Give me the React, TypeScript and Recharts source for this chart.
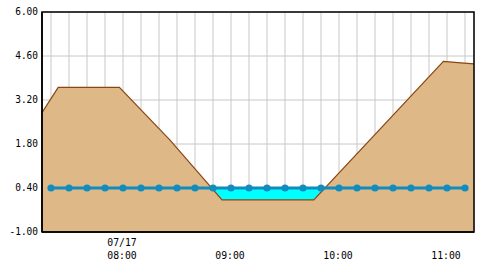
import React from 'react';
import { ComposedChart, Area, Line, XAxis, YAxis, CartesianGrid, ReferenceArea } from 'recharts';

// times are minutes since 00:00 on 07/17
const levelTimes = [440, 450, 460, 470, 480, 490, 500, 510, 520, 530, 540, 550, 560, 570, 580, 590, 600, 610, 620, 630, 640, 650, 660, 670];
const levelValues = [0.4, 0.4, 0.4, 0.4, 0.4, 0.4, 0.4, 0.4, 0.4, 0.4, 0.4, 0.4, 0.4, 0.4, 0.4, 0.4, 0.4, 0.4, 0.4, 0.4, 0.4, 0.4, 0.4, 0.4];
const tideTimes = [435, 444, 478, 506, 535, 586, 658, 666, 675];
const tideValues = [2.8, 3.6, 3.6, 1.93, 0.02, 0.02, 4.43, 4.39, 4.35];
const yTicks = [-1, 0.4, 1.8, 3.2, 4.6, 6];
const xDomain = [435, 675];
const yDomain = [-1, 6];
const xLabelTimes = [480, 540, 600, 660];
const xLabelTexts = [['07/17', '08:00'], ['09:00'], ['10:00'], ['11:00']];

const allTimes = Array.from(new Set([...levelTimes, ...tideTimes])).sort((a, b) => a - b);
const data = allTimes.map((t) => {
  const li = levelTimes.indexOf(t);
  const ti = tideTimes.indexOf(t);
  return {
    t,
    level: li >= 0 ? levelValues[li] : null,
    tide: ti >= 0 ? tideValues[ti] : null,
  };
});

const FONT = '"DejaVu Sans Mono", monospace';

const XTick = (props: any) => {
  const { x, y, payload } = props;
  const idx = xLabelTimes.indexOf(payload.value);
  if (idx < 0) return <g />;
  const lines = xLabelTexts[idx];
  const lineGap = 13;
  const last = 26.6;
  return (
    <g>
      {lines.map((s, i) => (
        <text
          key={i}
          x={x - 1}
          y={y + last - (lines.length - 1 - i) * lineGap}
          textAnchor="middle"
          fontFamily={FONT}
          fontSize={11}
          fill="#000"
          textLength={s.length * 5.9}
          lengthAdjust="spacingAndGlyphs"
        >
          {s}
        </text>
      ))}
    </g>
  );
};

const YTick = (props: any) => {
  const { x, y, payload } = props;
  const s = Number(payload.value).toFixed(2);
  return (
    <text
      x={x}
      y={y + 3.2}
      textAnchor="end"
      fontFamily={FONT}
      fontSize={11}
      fill="#000"
      textLength={s.length * 5.7}
      lengthAdjust="spacingAndGlyphs"
    >
      {s}
    </text>
  );
};

export default function App() {
  return (
    <div style={{ position: 'absolute', left: 0, top: 0, background: '#fff' }}>
      <ComposedChart width={480} height={265} data={data} margin={{ top: 12, right: 6, bottom: 0, left: 0 }}>
        <CartesianGrid stroke="#c8c8c8" strokeWidth={1} />
        <Area
          type="linear"
          dataKey="level"
          baseValue="dataMin"
          fill="#00ffff"
          fillOpacity={1}
          stroke="none"
          connectNulls
          isAnimationActive={false}
        />
        <Area
          type="linear"
          dataKey="tide"
          baseValue="dataMin"
          fill="#deb887"
          fillOpacity={1}
          stroke="#8b4513"
          strokeWidth={1.2}
          connectNulls
          isAnimationActive={false}
        />
        <Line
          type="linear"
          dataKey="level"
          stroke="#108cbe"
          strokeWidth={3}
          dot={{ r: 3.6, fill: '#108cbe', stroke: '#108cbe', strokeWidth: 0 }}
          activeDot={false}
          connectNulls
          isAnimationActive={false}
        />
        <ReferenceArea
          x1={xDomain[0]}
          x2={xDomain[1]}
          y1={yDomain[0]}
          y2={yDomain[1]}
          fill="none"
          fillOpacity={0}
          stroke="#000"
          strokeWidth={1.5}
          ifOverflow="visible"
        />
        <XAxis
          dataKey="t"
          type="number"
          domain={xDomain}
          ticks={levelTimes}
          interval={0}
          allowDataOverflow
          height={33}
          tickSize={0}
          tickMargin={0}
          tickLine={false}
          axisLine={{ stroke: '#000', strokeWidth: 1.5 }}
          tick={XTick}
        />
        <YAxis
          type="number"
          domain={yDomain}
          ticks={yTicks}
          interval={0}
          allowDataOverflow
          width={42}
          tickSize={0}
          tickMargin={4}
          tickLine={false}
          axisLine={{ stroke: '#000', strokeWidth: 1.5 }}
          tick={YTick}
        />
      </ComposedChart>
    </div>
  );
}
